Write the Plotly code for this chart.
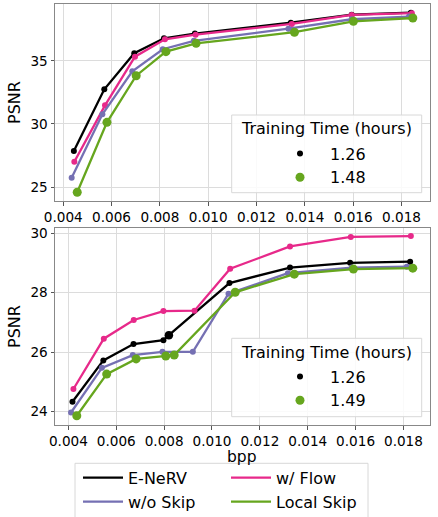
import plotly.graph_objects as go

# ---- data: rate-distortion points (bpp vs PSNR) ----
# top panel
top_enerv_bpp = [0.00444, 0.00570, 0.00694, 0.00817, 0.00945, 0.01342, 0.01594, 0.01839]
top_enerv_psnr = [27.86, 32.75, 35.61, 36.80, 37.17, 38.04, 38.67, 38.83]
top_flow_bpp = [0.00446, 0.00573, 0.00697, 0.00821, 0.00948, 0.01346, 0.01594, 0.01843]
top_flow_psnr = [27.00, 31.48, 35.34, 36.72, 37.09, 37.94, 38.65, 38.79]
top_noskip_bpp = [0.00435, 0.00562, 0.00686, 0.00812, 0.00941, 0.01332, 0.01594, 0.01831]
top_noskip_psnr = [25.74, 30.77, 34.18, 35.93, 36.60, 37.56, 38.31, 38.52]
top_local_bpp = [0.00458, 0.00581, 0.00702, 0.00825, 0.00950, 0.01357, 0.01601, 0.01847]
top_local_psnr = [24.58, 30.13, 33.83, 35.74, 36.40, 37.28, 38.15, 38.41]

# bottom panel
bot_enerv_bpp = [0.00417, 0.00546, 0.00672, 0.00797, 0.01073, 0.01326, 0.01577, 0.01828]
bot_enerv_psnr = [24.33, 25.72, 26.27, 26.40, 28.32, 28.84, 29.00, 29.04]
bot_enerv_mark_bpp = [0.00820]
bot_enerv_mark_psnr = [26.57]
bot_flow_bpp = [0.00421, 0.00548, 0.00673, 0.00797, 0.00927, 0.01076, 0.01326, 0.01580, 0.01831]
bot_flow_psnr = [24.76, 26.45, 27.08, 27.38, 27.39, 28.80, 29.55, 29.87, 29.90]
bot_noskip_bpp = [0.00411, 0.00540, 0.00669, 0.00793, 0.00920, 0.01069, 0.01317, 0.01584, 0.01814]
bot_noskip_psnr = [23.97, 25.47, 25.90, 26.01, 26.01, 27.96, 28.65, 28.84, 28.87]
bot_local_bpp = [0.00435, 0.00560, 0.00683, 0.00807, 0.00842, 0.01097, 0.01344, 0.01591, 0.01839]
bot_local_psnr = [23.86, 25.26, 25.77, 25.87, 25.90, 28.01, 28.62, 28.79, 28.82]

series_names = ["E-NeRV", "w/ Flow", "w/o Skip", "Local Skip"]
colors = {"E-NeRV": "#000000", "w/ Flow": "#e7298a", "w/o Skip": "#7570b3", "Local Skip": "#66a61e"}
# the method legend is laid out in two rows of two
legend_rows = {"E-NeRV": "legend3", "w/ Flow": "legend3",
               "w/o Skip": "legend4", "Local Skip": "legend4"}

top_time_labels = ["1.26", "1.48"]
bot_time_labels = ["1.26", "1.49"]

x_ticks = [0.004, 0.006, 0.008, 0.010, 0.012, 0.014, 0.016, 0.018]

W, H = 438, 517
FONT = "DejaVu Sans"

fig = go.Figure()

top_series = {
    "E-NeRV": (top_enerv_bpp, top_enerv_psnr),
    "w/ Flow": (top_flow_bpp, top_flow_psnr),
    "w/o Skip": (top_noskip_bpp, top_noskip_psnr),
    "Local Skip": (top_local_bpp, top_local_psnr),
}
bot_series = {
    "E-NeRV": (bot_enerv_bpp, bot_enerv_psnr),
    "w/ Flow": (bot_flow_bpp, bot_flow_psnr),
    "w/o Skip": (bot_noskip_bpp, bot_noskip_psnr),
    "Local Skip": (bot_local_bpp, bot_local_psnr),
}


def add_panel(series, xa, ya, legend_name, time_labels, show_line_legend, enerv_mark=None):
    for name in series_names:
        xs, ys = series[name]
        if name == "E-NeRV" and enerv_mark is not None:
            # the line passes through the highlighted point as well
            pts = sorted(list(zip(xs, ys)) + list(zip(*enerv_mark)))
            lx = [p[0] for p in pts]
            ly = [p[1] for p in pts]
        else:
            lx, ly = xs, ys
        fig.add_trace(go.Scatter(
            x=lx, y=ly, mode="lines", name=name,
            line=dict(color=colors[name], width=2.3),
            xaxis=xa, yaxis=ya, legend=legend_rows[name],
            showlegend=show_line_legend,
        ))
        if name == "E-NeRV":
            fig.add_trace(go.Scatter(
                x=xs, y=ys, mode="markers", name=time_labels[0],
                marker=dict(color=colors[name], size=6),
                xaxis=xa, yaxis=ya, legend=legend_name, showlegend=True,
            ))
            if enerv_mark is not None:
                fig.add_trace(go.Scatter(
                    x=enerv_mark[0], y=enerv_mark[1], mode="markers",
                    marker=dict(color=colors[name], size=8.5),
                    xaxis=xa, yaxis=ya, showlegend=False,
                ))
        elif name == "Local Skip":
            fig.add_trace(go.Scatter(
                x=xs, y=ys, mode="markers", name=time_labels[1],
                marker=dict(color=colors[name], size=9),
                xaxis=xa, yaxis=ya, legend=legend_name, showlegend=True,
            ))
        else:
            fig.add_trace(go.Scatter(
                x=xs, y=ys, mode="markers", name=name,
                marker=dict(color=colors[name], size=6),
                xaxis=xa, yaxis=ya, showlegend=False,
            ))


add_panel(top_series, "x", "y", "legend", top_time_labels, True)
add_panel(bot_series, "x2", "y2", "legend2", bot_time_labels, False,
          enerv_mark=(bot_enerv_mark_bpp, bot_enerv_mark_psnr))

axis_common = dict(
    showgrid=True, gridcolor="#dcdcdc", gridwidth=1,
    showline=True, linecolor="#888888", linewidth=1, mirror=True,
    ticks="outside", ticklen=3.5, tickcolor="#555555", tickwidth=1,
    tickfont=dict(family=FONT, size=13.6, color="#000000"),
    zeroline=False,
)

px = lambda v: v / W
py = lambda v: 1 - v / H

box_line = dict(color="#d8d8d8", width=1)
legend_font = dict(family=FONT, size=16)

fig.update_layout(
    width=W, height=H,
    margin=dict(l=0, r=0, t=0, b=0, autoexpand=False),
    paper_bgcolor="white", plot_bgcolor="white",
    font=dict(family=FONT, color="#000000"),
    xaxis=dict(domain=[px(55), px(430)], anchor="y", range=[0.00366, 0.01918],
               tickvals=x_ticks, tickformat=".3f", **axis_common),
    yaxis=dict(domain=[py(201), py(4)], anchor="x", range=[23.89, 39.52],
               tickvals=[25, 30, 35],
               title=dict(text="PSNR", font=dict(family=FONT, size=16), standoff=5),
               **axis_common),
    xaxis2=dict(domain=[px(55), px(430)], anchor="y2", range=[0.00344, 0.01911],
                tickvals=x_ticks, tickformat=".3f", **axis_common),
    yaxis2=dict(domain=[py(425), py(228)], anchor="x2", range=[23.55, 30.17],
                tickvals=[24, 26, 28, 30],
                title=dict(text="PSNR", font=dict(family=FONT, size=16), standoff=5),
                **axis_common),
    legend=dict(x=px(270), y=py(136.5), xanchor="left", yanchor="top",
                bgcolor="rgba(0,0,0,0)", borderwidth=0, itemwidth=50,
                font=legend_font, tracegroupgap=0),
    legend2=dict(x=px(270), y=py(359.5), xanchor="left", yanchor="top",
                 bgcolor="rgba(0,0,0,0)", borderwidth=0, itemwidth=50,
                 font=legend_font, tracegroupgap=0),
    legend3=dict(x=px(78), y=py(460.7), xanchor="left", yanchor="top",
                 orientation="h", entrywidth=93, entrywidthmode="pixels",
                 itemwidth=40, bgcolor="rgba(0,0,0,0)", borderwidth=0,
                 font=legend_font),
    legend4=dict(x=px(78), y=py(484.7), xanchor="left", yanchor="top",
                 orientation="h", entrywidth=93, entrywidthmode="pixels",
                 itemwidth=40, bgcolor="rgba(0,0,0,0)", borderwidth=0,
                 font=legend_font),
    shapes=[
        dict(type="rect", xref="paper", yref="paper",
             x0=px(231.7), x1=px(421.7), y0=py(192.7), y1=py(115),
             fillcolor="rgba(255,255,255,0.85)", line=box_line, layer="above"),
        dict(type="rect", xref="paper", yref="paper",
             x0=px(231.7), x1=px(421.7), y0=py(416.7), y1=py(338.3),
             fillcolor="rgba(255,255,255,0.85)", line=box_line, layer="above"),
        dict(type="rect", xref="paper", yref="paper",
             x0=px(75), x1=px(368), y0=py(530), y1=py(463.3),
             fillcolor="white", line=box_line, layer="above"),
    ],
    annotations=[
        dict(text="Training Time (hours)", xref="paper", yref="paper",
             x=px(326), y=py(128.3), xanchor="center", yanchor="middle",
             showarrow=False, font=dict(family=FONT, size=16)),
        dict(text="Training Time (hours)", xref="paper", yref="paper",
             x=px(326), y=py(352.3), xanchor="center", yanchor="middle",
             showarrow=False, font=dict(family=FONT, size=16)),
        # x-axis title of the lower panel
        dict(text="bpp", xref="paper", yref="paper",
             x=px(242.5), y=py(457), xanchor="center", yanchor="middle",
             showarrow=False, borderpad=0, font=dict(family=FONT, size=15.5)),
    ],
)

fig.write_html("out.html")
